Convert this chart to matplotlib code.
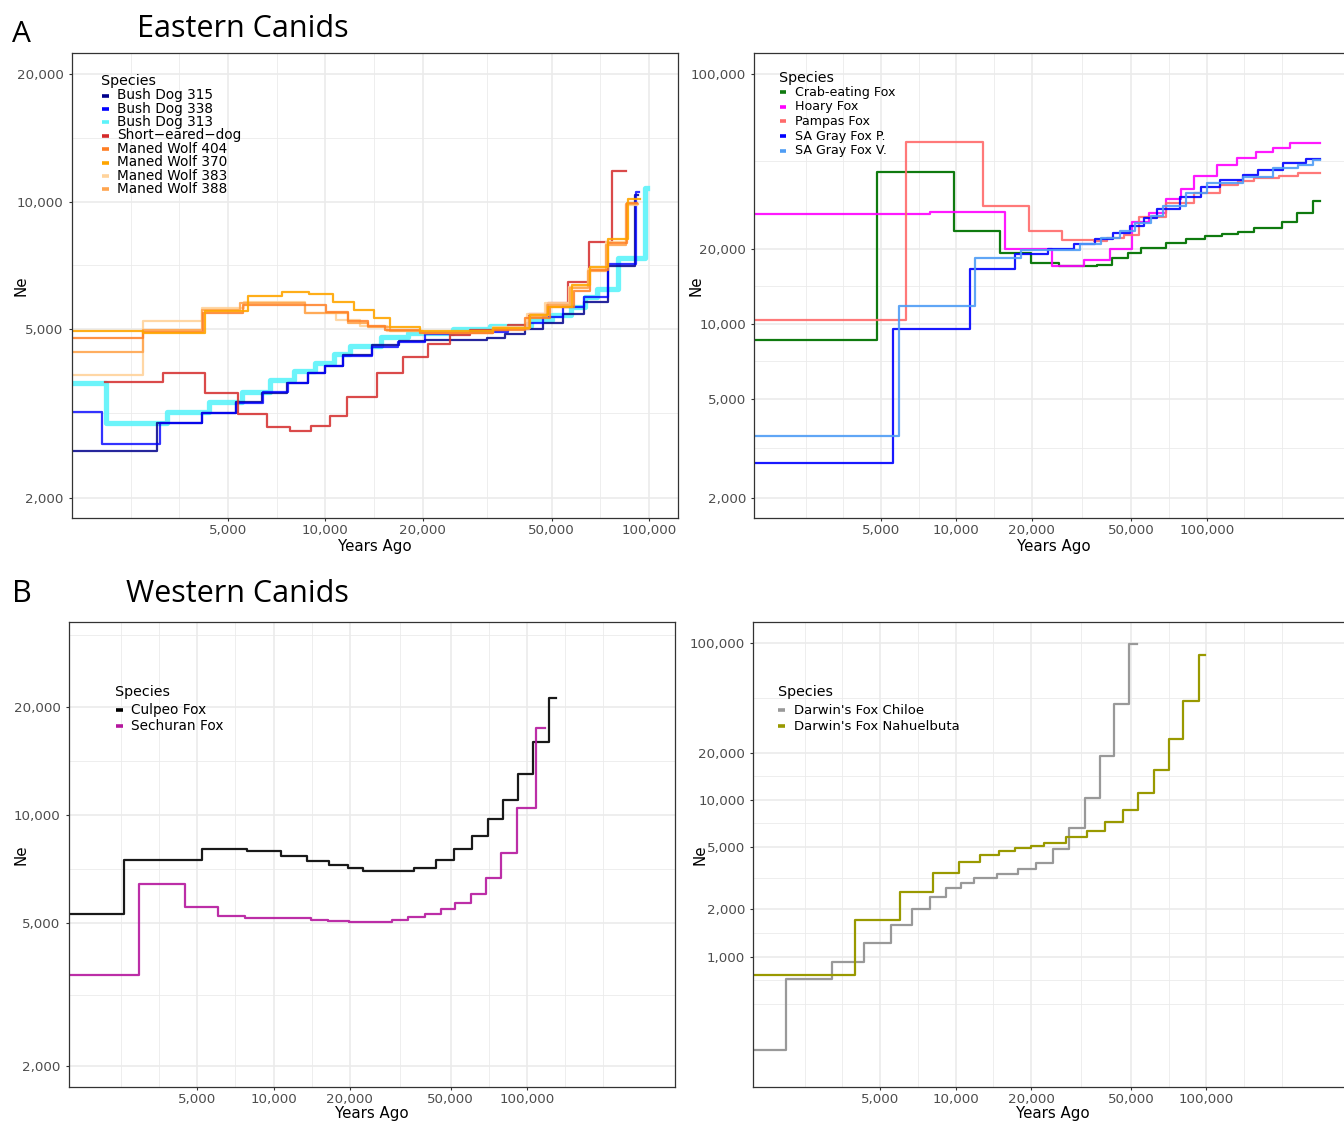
import numpy as np
import matplotlib
matplotlib.use("Agg")
import matplotlib.pyplot as plt
from matplotlib.lines import Line2D
from matplotlib.ticker import NullFormatter

# ---------------- data: step starts (years ago) and Ne; last point closes the step
# A / left: Eastern canids
bd315_x = [1500, 3017, 4146, 5309, 6386, 7637, 8836, 9969, 11300, 13930, 16880, 20280, 31500, 35900, 41400, 47100, 54400, 63000, 74500, 90500, 92700]
bd315_ne = [2580, 3008, 3176, 3370, 3536, 3738, 3941, 4093, 4346, 4587, 4698, 4716, 4758, 4870, 5006, 5163, 5432, 5808, 7050, 10370, 10370]
bd338_x = [1500, 2036, 3082, 4165, 5281, 6427, 7680, 8820, 10000, 11300, 13900, 16800, 20300, 27980, 36700, 41900, 47100, 54400, 63000, 74500, 91200, 93000]
bd338_ne = [3188, 2678, 2996, 3177, 3352, 3555, 3738, 3934, 4100, 4324, 4532, 4671, 4870, 4932, 5026, 5163, 5352, 5652, 5948, 7130, 10560, 10560]
bd313_x = [1500, 2099, 3240, 4383, 5524, 6729, 7998, 9304, 10630, 11950, 14830, 17960, 24790, 32250, 43200, 50000, 57300, 63400, 68900, 80400, 97200, 98600]
bd313_ne = [3727, 3008, 3192, 3370, 3560, 3793, 3990, 4168, 4370, 4564, 4784, 4906, 4996, 5087, 5256, 5401, 5643, 5968, 6222, 7350, 10760, 10760]
sed_x = [2090, 3148, 4236, 5386, 6585, 7754, 9050, 10370, 11660, 14460, 17400, 20800, 24270, 27980, 36700, 42600, 48800, 56300, 65400, 77000, 84700]
sed_ne = [3746, 3946, 3540, 3159, 2943, 2880, 2954, 3120, 3464, 3934, 4307, 4614, 4846, 4978, 5115, 5432, 5776, 6474, 8048, 11820, 11820]
mw404_x = [1500, 2730, 4194, 5575, 10050, 11770, 13570, 15280, 19570, 33000, 41500, 49500, 58500, 65700, 74800, 85500, 92000]
mw404_ne = [4772, 4930, 5469, 5704, 5500, 5236, 5096, 4978, 4900, 4980, 5300, 5650, 6150, 6900, 8000, 9950, 9950]
mw370_x = [1500, 2740, 4236, 5754, 7344, 8897, 10550, 12280, 14130, 15870, 19570, 33000, 42900, 48800, 57700, 65700, 74800, 86300, 93800]
mw370_ne = [4950, 4890, 5528, 5990, 6120, 6044, 5808, 5550, 5323, 5067, 4950, 5030, 5400, 5650, 6360, 7020, 8150, 10130, 10130]
mw383_x = [1500, 2730, 4146, 5620, 8647, 10800, 12800, 15500, 20000, 33000, 42000, 47800, 56500, 64800, 73500, 85000, 91500]
mw383_ne = [3900, 5230, 5603, 5788, 5469, 5250, 5100, 4950, 4900, 5050, 5420, 5750, 6300, 6950, 8050, 9800, 9800]
mw388_x = [1500, 2730, 4165, 5443, 8647, 11770, 13570, 15870, 20000, 33000, 42500, 48500, 57000, 65000, 73500, 84800, 92700]
mw388_ne = [4424, 4978, 5550, 5756, 5452, 5182, 5067, 4950, 4900, 5000, 5350, 5700, 6250, 6850, 7900, 9900, 9900]

# A / right
crab_x = [1500, 4820, 9816, 14880, 19940, 25670, 36380, 41760, 48370, 54800, 68600, 82400, 98200, 114700, 132900, 153900, 199100, 229600, 264800, 282400]
crab_ne = [8553, 40480, 23600, 19170, 17480, 16940, 17210, 18300, 19170, 20080, 21130, 21820, 22350, 22910, 23390, 24140, 25510, 27720, 31060, 31060]
hoary_x = [1500, 7845, 15620, 24070, 32430, 40930, 50180, 58660, 68600, 78700, 89200, 109600, 131700, 156800, 183300, 214300, 282400]
hoary_ne = [27480, 28130, 19940, 17050, 17910, 19940, 25510, 27880, 31550, 34590, 39130, 43290, 46060, 48690, 50780, 52920, 52920]
pampas_x = [1500, 6273, 12760, 19480, 26380, 35400, 40130, 46930, 53770, 68600, 89200, 113000, 133000, 153900, 195000, 230600, 282400]
pampas_ne = [10290, 53550, 29580, 23540, 21620, 21340, 22020, 22700, 26880, 30400, 33440, 36000, 37350, 38510, 39200, 40120, 40120]
sagp_x = [1500, 5583, 11330, 17190, 23300, 29430, 35720, 42070, 49270, 56350, 63560, 78430, 94600, 112600, 139100, 159700, 201900, 250100, 282400]
sagp_ne = [2760, 9506, 16580, 19050, 19940, 20830, 21820, 23180, 24660, 26480, 28840, 32310, 35440, 37710, 39490, 41350, 43970, 45750, 45750]
sagv_x = [1500, 5900, 11880, 18100, 31180, 37890, 45100, 51740, 59770, 66600, 82400, 100000, 139100, 183300, 231300, 265000, 282400]
sagv_ne = [3528, 11750, 18240, 19760, 20830, 22020, 23540, 25280, 27120, 29660, 33340, 36570, 38870, 42010, 43290, 45340, 45340]

# B / left: Western canids
culpeo_x = [1500, 2559, 5203, 7866, 10700, 13550, 16500, 19630, 22620, 35890, 43710, 51750, 60630, 70100, 80500, 92400, 106100, 121700, 130200]
culpeo_ne = [5312, 7497, 8034, 7942, 7690, 7448, 7250, 7126, 6998, 7135, 7497, 8034, 8744, 9720, 11020, 12960, 15930, 21180, 21180]
sech_x = [1500, 2938, 4480, 6020, 7715, 10370, 14100, 16440, 19860, 29230, 33830, 39580, 45790, 52200, 59900, 68740, 78900, 91650, 108100, 118000]
sech_ne = [3596, 6412, 5534, 5214, 5164, 5155, 5110, 5073, 5039, 5110, 5191, 5312, 5470, 5691, 6026, 6654, 7814, 10460, 17470, 17470]

# B / right
chiloe_x = [1500, 2107, 3206, 4325, 5505, 6691, 7906, 9168, 10460, 11800, 14620, 17760, 20890, 24430, 28320, 32690, 37470, 42940, 49180, 52730]
chiloe_ne = [253, 725, 924, 1216, 1590, 2004, 2384, 2720, 2945, 3170, 3377, 3595, 3978, 4858, 6564, 10310, 19020, 40620, 97800, 97800]
nahu_x = [1500, 3971, 6020, 8157, 10300, 12500, 14840, 17220, 19980, 22420, 27650, 33350, 39420, 46420, 53560, 61650, 71150, 80900, 93460, 99040]
nahu_ne = [769, 1711, 2580, 3430, 4038, 4416, 4731, 4909, 5069, 5313, 5784, 6327, 7178, 8590, 10990, 15480, 24470, 42810, 83600, 83600]

x_breaks = [5000, 10000, 20000, 50000, 100000]
y_breaks = [1000, 2000, 5000, 10000, 20000, 100000]

W, H = 1344, 1123
fig = plt.figure(figsize=(W / 100, H / 100), dpi=100)


def gg_minor(breaks, lo, hi):
    # ggplot style minor breaks: midpoints, plus one extra break each side
    b = list(np.log10(breaks))
    bd = b[1] - b[0]
    if np.log10(lo) < b[0]:
        b = [b[0] - bd] + b
    if np.log10(hi) > b[-1]:
        b = b + [b[-1] + bd]
    out = []
    for a, c in zip(b[:-1], b[1:]):
        out += [a, (a + c) / 2]
    out.append(b[-1])
    return [10 ** v for v in out if lo <= 10 ** v <= hi]


def panel(left, top, right, bottom, xlim, ylim, xlab_y, ylab_x):
    ax = fig.add_axes([left / W, 1 - bottom / H, (right - left) / W, (bottom - top) / H])
    ax.set_xscale("log")
    ax.set_yscale("log")
    ax.set_xlim(xlim)
    ax.set_ylim(ylim)
    xb = [b for b in x_breaks if xlim[0] <= b <= xlim[1]]
    yb = [b for b in y_breaks if ylim[0] <= b <= ylim[1]]
    ax.set_xticks(xb, labels=[f"{b:,}" for b in xb])
    ax.set_yticks(yb, labels=[f"{b:,}" for b in yb])
    ax.set_xticks(gg_minor(xb, *xlim), minor=True)
    ax.set_yticks(gg_minor(yb, *ylim), minor=True)
    ax.xaxis.set_minor_formatter(NullFormatter())
    ax.yaxis.set_minor_formatter(NullFormatter())
    ax.grid(which="minor", color="#EBEBEB", lw=0.6)
    ax.grid(which="major", color="#EBEBEB", lw=1.2)
    ax.set_axisbelow(True)
    ax.tick_params(which="minor", length=0)
    ax.tick_params(which="major", length=2.2, width=0.8, color="#333333",
                   labelsize=9.6, labelcolor="#4D4D4D")
    ax.tick_params(axis="x", pad=2.2)
    ax.tick_params(axis="y", pad=3.6)
    for sp in ax.spines.values():
        sp.set_color("#333333")
        sp.set_linewidth(0.9)
    ax.set_xlabel("Years Ago", fontsize=10.8)
    ax.set_ylabel("Ne", fontsize=10.8)
    ax.xaxis.set_label_coords(0.5, xlab_y)
    ax.yaxis.set_label_coords(ylab_x, 0.5)
    return ax


def legend(entries, tx, ty, kx, key_y0, step, txt_x, fs):
    fig.text(tx / W, 1 - ty / H, "Species", fontsize=10.3, va="baseline")
    for i, (lab, col) in enumerate(entries):
        y = key_y0 + i * step
        fig.add_artist(Line2D([kx / W, (kx + 7) / W], [1 - y / H, 1 - y / H],
                              color=col, lw=2.6, solid_capstyle="butt"))
        fig.text(txt_x / W, 1 - (y + 3.6) / H, lab, fontsize=fs, va="baseline")


# ---------------- A left
ax1 = panel(71.6, 53.3, 678, 518.3, (1644, 122900), (1787, 22420), -0.0445, -0.0707)
ax1.step(bd313_x, bd313_ne, where="post", color="#5CF3FA", lw=3.8, alpha=0.9)
ax1.step(bd315_x, bd315_ne, where="post", color="#00008B", lw=1.6, alpha=0.85)
ax1.step(bd338_x, bd338_ne, where="post", color="#0000FF", lw=1.6, alpha=0.8)
ax1.step(sed_x, sed_ne, where="post", color="#D42A2A", lw=1.6, alpha=0.85)
ax1.step(mw383_x, mw383_ne, where="post", color="#FFD39B", lw=1.6, alpha=0.9)
ax1.step(mw388_x, mw388_ne, where="post", color="#FFA54F", lw=1.6, alpha=0.9)
ax1.step(mw404_x, mw404_ne, where="post", color="#FF7F24", lw=1.6, alpha=0.85)
ax1.step(mw370_x, mw370_ne, where="post", color="#FFA500", lw=1.6, alpha=0.9)
legend([("Bush Dog 315", "#00008B"), ("Bush Dog 338", "#0000FF"), ("Bush Dog 313", "#5CF3FA"),
        ("Short\u2212eared\u2212dog", "#D42A2A"), ("Maned Wolf 404", "#FF7F24"),
        ("Maned Wolf 370", "#FFA500"), ("Maned Wolf 383", "#FFD39B"), ("Maned Wolf 388", "#FFA54F")],
       101, 85, 102, 95.5, 13.4, 117, 9.8)

# ---------------- A right
ax2 = panel(754, 53, 1353, 518, (1556, 383900), (1658, 121800), -0.0445, -0.0838)
ax2.step(crab_x, crab_ne, where="post", color="#0F7A0F", lw=1.6)
ax2.step(hoary_x, hoary_ne, where="post", color="#FF00FF", lw=1.6, alpha=0.9)
ax2.step(pampas_x, pampas_ne, where="post", color="#FF6A6A", lw=1.6, alpha=0.9)
ax2.step(sagp_x, sagp_ne, where="post", color="#0000FF", lw=1.6, alpha=0.9)
ax2.step(sagv_x, sagv_ne, where="post", color="#4F9DF5", lw=1.6, alpha=0.9)
legend([("Crab-eating Fox", "#0F7A0F"), ("Hoary Fox", "#FF00FF"), ("Pampas Fox", "#FF6A6A"),
        ("SA Gray Fox P.", "#0000FF"), ("SA Gray Fox V.", "#4F9DF5")],
       779.5, 81.7, 779.5, 92.2, 14.6, 795.2, 9.1)

# ---------------- B left
ax3 = panel(68.5, 622, 675, 1087, (1551, 383900), (1750, 34360), -0.041, -0.0664)
ax3.step(culpeo_x, culpeo_ne, where="post", color="#000000", lw=1.6, alpha=0.9)
ax3.step(sech_x, sech_ne, where="post", color="#B5179E", lw=1.6, alpha=0.9)
legend([("Culpeo Fox", "#000000"), ("Sechuran Fox", "#B5179E")],
       115, 696, 116, 710, 16.2, 131, 9.8)

# ---------------- B right
ax4 = panel(753, 622, 1353, 1087, (1557, 383900), (147.6, 135900), -0.041, -0.0757)
ax4.step(chiloe_x, chiloe_ne, where="post", color="#999999", lw=1.6)
ax4.step(nahu_x, nahu_ne, where="post", color="#999900", lw=1.6)
legend([("Darwin's Fox Chiloe", "#999999"), ("Darwin's Fox Nahuelbuta", "#999900")],
       778, 696, 778, 710, 16.2, 793.5, 9.5)

# ---------------- panel titles
fig.text(11.7 / W, 1 - 41.7 / H, "A", fontsize=21.5, family="Open Sans", va="baseline")
fig.text(136.7 / W, 1 - 37.3 / H, "Eastern Canids", fontsize=22, family="Open Sans", va="baseline")
fig.text(12.1 / W, 1 - 602 / H, "B", fontsize=22, family="Open Sans", va="baseline")
fig.text(125.8 / W, 1 - 602.5 / H, "Western Canids", fontsize=22, family="Open Sans", va="baseline")

fig.savefig("out.png", dpi=100)
